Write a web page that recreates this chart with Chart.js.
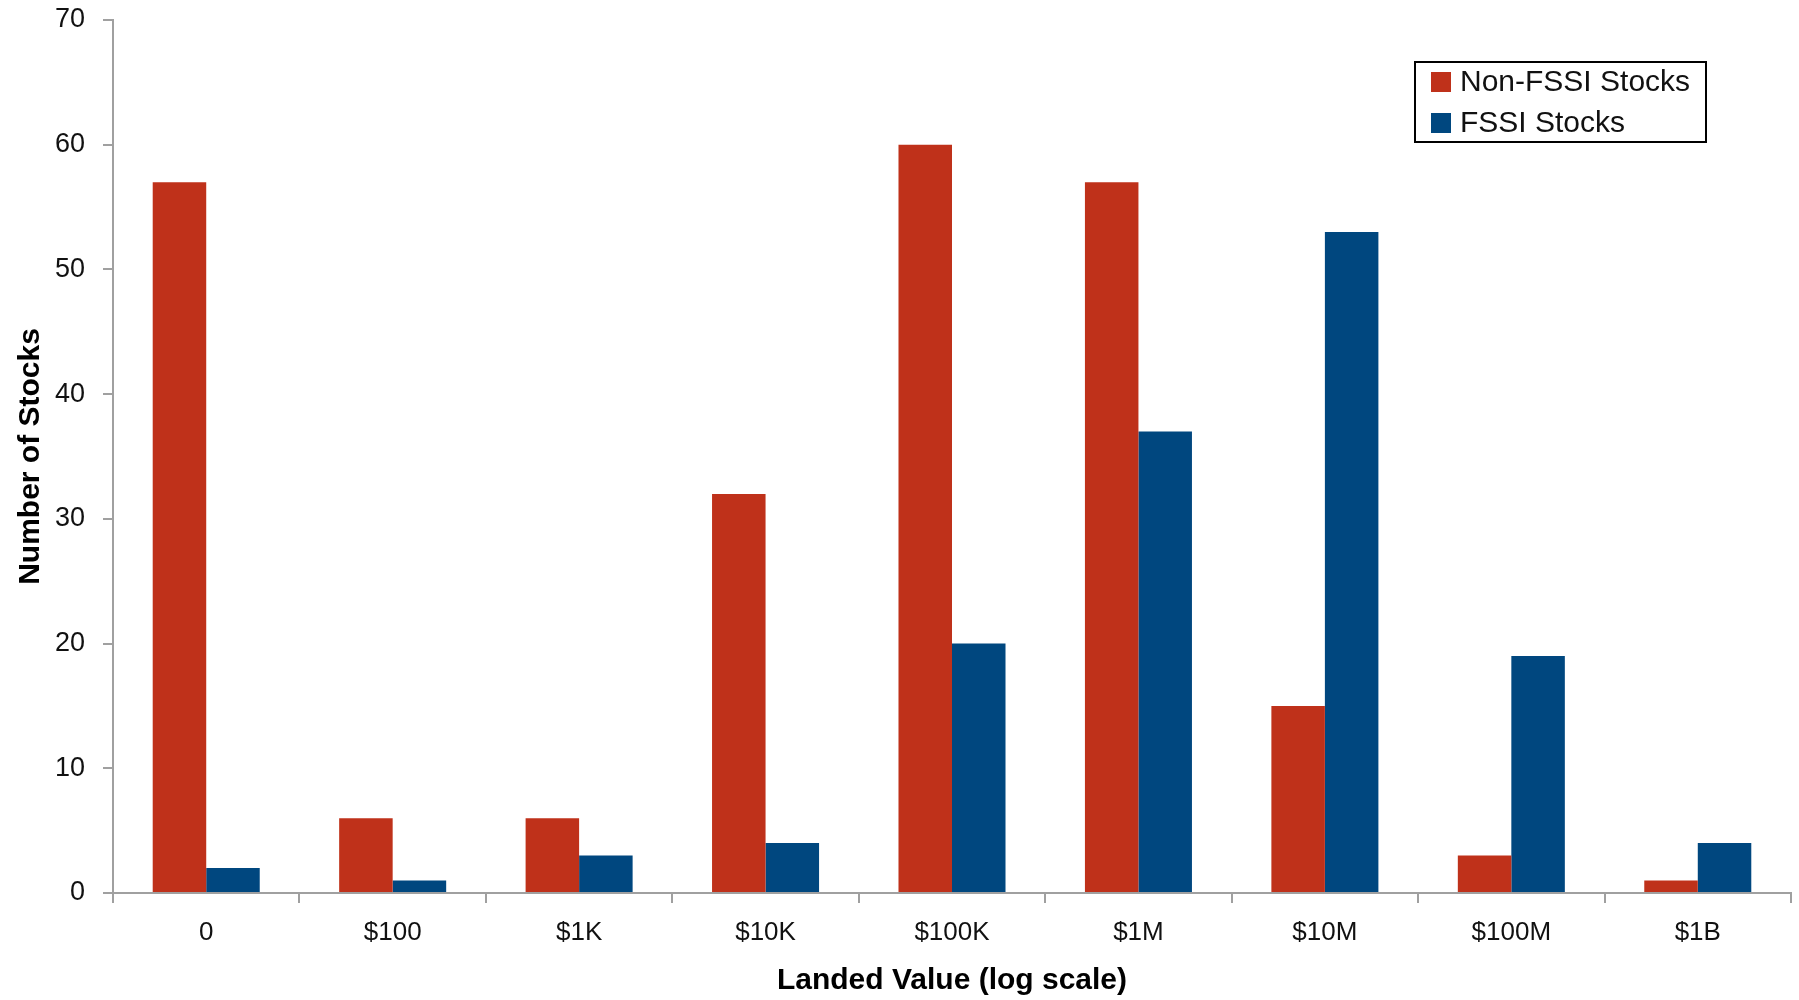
<!DOCTYPE html>
<html>
<head>
<meta charset="utf-8">
<title>Landed Value</title>
<script src="https://cdn.jsdelivr.net/npm/chart.js@4.4.1/dist/chart.umd.min.js"></script>
<style>
  html, body { margin: 0; padding: 0; background: #fff; }
  #wrap { width: 1799px; height: 1000px; position: relative; }
</style>
</head>
<body>
<div id="wrap"><canvas id="landedChart"></canvas></div>
<script>
const categories = ["0", "$100", "$1K", "$10K", "$100K", "$1M", "$10M", "$100M", "$1B"];
const nonFssi = [57, 6, 6, 32, 60, 57, 15, 3, 1];
const fssi = [2, 1, 3, 4, 20, 37, 53, 19, 4];
const seriesNames = ["Non-FSSI Stocks", "FSSI Stocks"];
const yTicks = [0, 10, 20, 30, 40, 50, 60, 70];

const RED = "#BF311A";
const BLUE = "#00477F";
const AXIS = "#A0A0A0";
const FONT = '"Liberation Sans", Arial, sans-serif';

// boxed legend sitting inside the plot, like the original
const boxLegend = {
  id: "boxLegend",
  afterDraw(chart) {
    const ctx = chart.ctx;
    const area = chart.chartArea;
    const right = area.right - 85;
    const top = area.top + 42;
    const w = 291, h = 80;
    const left = right - w;
    ctx.save();
    ctx.fillStyle = "#fff";
    ctx.fillRect(left, top, w, h);
    ctx.strokeStyle = "#000";
    ctx.lineWidth = 2;
    ctx.strokeRect(left, top, w, h);
    ctx.font = "30px " + FONT;
    ctx.textBaseline = "middle";
    chart.data.datasets.forEach((ds, i) => {
      const cy = top + 20 + i * 41;
      ctx.fillStyle = ds.backgroundColor;
      ctx.fillRect(left + 16, cy - 10, 20, 20);
      ctx.fillStyle = "#111";
      ctx.fillText(ds.label, left + 45, cy + 1);
    });
    ctx.restore();
  }
};

const ctx = document.getElementById("landedChart").getContext("2d");
new Chart(ctx, {
  type: "bar",
  data: {
    labels: categories,
    datasets: [
      { label: seriesNames[0], data: nonFssi, backgroundColor: RED, borderWidth: 0 },
      { label: seriesNames[1], data: fssi, backgroundColor: BLUE, borderWidth: 0 }
    ]
  },
  options: {
    responsive: true,
    maintainAspectRatio: false,
    animation: false,
    layout: { padding: { top: 20, right: 8, left: 0, bottom: 0 } },
    datasets: { bar: { categoryPercentage: 0.574, barPercentage: 1.0 } },
    plugins: {
      legend: { display: false },
      tooltip: { enabled: false }
    },
    scales: {
      x: {
        offset: true,
        grid: { offset: true, drawOnChartArea: false, drawTicks: true, tickLength: 10, color: AXIS, lineWidth: 2 },
        border: { color: AXIS, width: 2 },
        ticks: { color: "#111", font: { family: FONT, size: 26 }, padding: 14, maxRotation: 0, autoSkip: false },
        title: {
          display: true,
          text: "Landed Value (log scale)",
          color: "#000",
          font: { family: FONT, size: 30, weight: "bold" },
          padding: { top: 0, bottom: 1 }
        },
        afterFit(scale) { scale.height = 107; }
      },
      y: {
        min: 0,
        max: 70,
        afterBuildTicks(scale) { scale.ticks = yTicks.map(v => ({ value: v })); },
        grid: { drawOnChartArea: false, drawTicks: true, tickLength: 10, color: AXIS, lineWidth: 2 },
        border: { color: AXIS, width: 2 },
        ticks: { color: "#111", font: { family: FONT, size: 27 }, padding: 18 },
        title: {
          display: true,
          text: "Number of Stocks",
          color: "#000",
          font: { family: FONT, size: 30, weight: "bold" },
          padding: { top: 13, bottom: 0 }
        },
        afterFit(scale) {
          scale.width = 113;
          scale.paddingTop = 0;
          scale.paddingBottom = 0;
        }
      }
    }
  },
  plugins: [boxLegend]
});
</script>
</body>
</html>
